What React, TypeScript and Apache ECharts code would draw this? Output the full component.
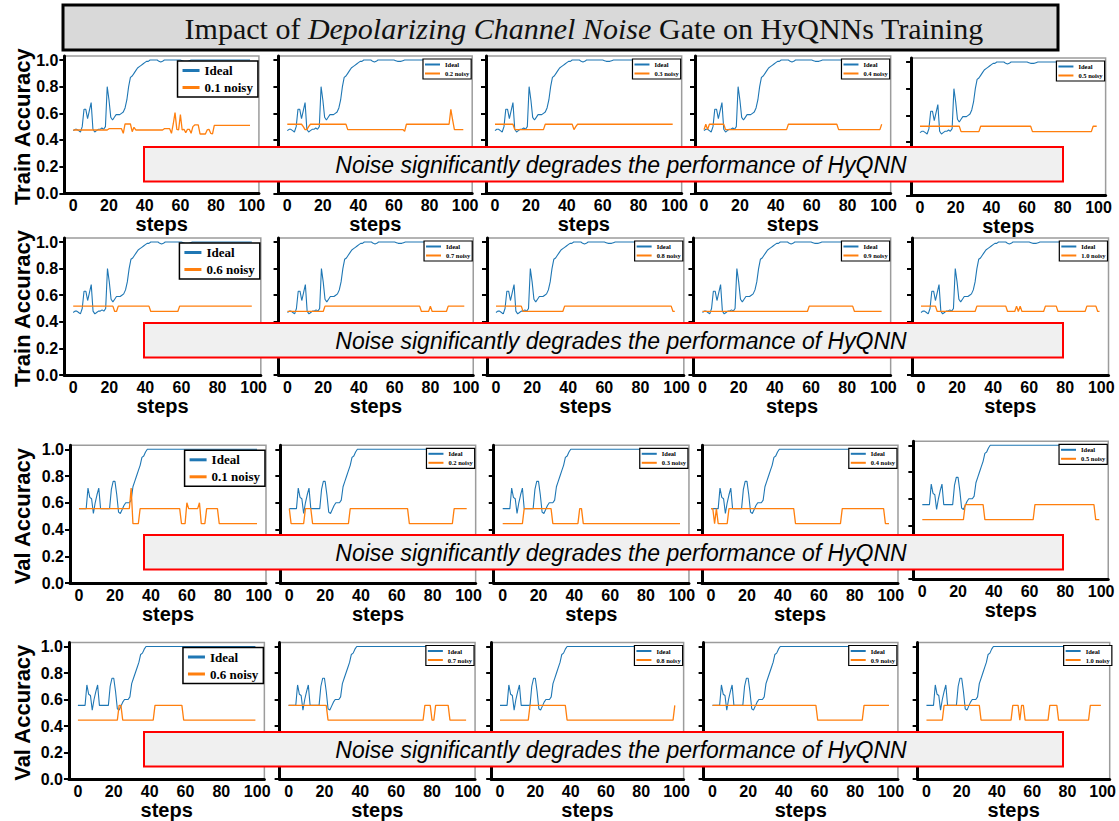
import React, { useEffect, useRef } from 'react';
import * as echarts from 'echarts';

// ---------------- data ----------------
const TH = 0.518, TL = 0.478; // train noisy levels
const VH = 0.556, VL = 0.444; // val noisy levels

const xTicks = [0, 20, 40, 60, 80, 100];
const yTicks = [0, 0.2, 0.4, 0.6, 0.8, 1.0];

const noiseLabels = ['0.1 noisy', '0.2 noisy', '0.3 noisy', '0.4 noisy', '0.5 noisy',
  '0.6 noisy', '0.7 noisy', '0.8 noisy', '0.9 noisy', '1.0 noisy'];

const rowTitles = ['Train Accuracy', 'Train Accuracy', 'Val Accuracy', 'Val Accuracy'];

const trainIdeal = [
  0.47, 0.48, 0.48, 0.47, 0.46, 0.50, 0.63, 0.63, 0.56, 0.62,
  0.68, 0.48, 0.46, 0.47, 0.48, 0.48, 0.49, 0.48, 0.50, 0.80,
  0.70, 0.57, 0.55, 0.57, 0.59, 0.59, 0.59, 0.60, 0.61, 0.64,
  0.70, 0.80, 0.87, 0.88, 0.90, 0.92, 0.94, 0.95, 0.96, 0.97,
  0.98, 0.99, 0.99, 1, 1, 1, 1, 1, 0.99, 0.985,
  0.99, 1, 1, 1, 1, 1, 1, 1, 1, 1,
  1, 0.995, 0.99, 0.99, 0.99, 0.995, 1, 1, 1, 1,
  1, 1, 1, 1, 1, 1, 1, 1, 1, 1,
  1, 1, 1, 1, 1, 1, 1, 1, 1, 1,
  1, 1, 1, 1, 1, 1, 1, 1, 1, 1,
];

const valIdeal = [
  0.556, 0.556, 0.556, 0.556, 0.556, 0.71, 0.64, 0.63, 0.52, 0.60,
  0.66, 0.71, 0.556, 0.556, 0.556, 0.556, 0.556, 0.556, 0.70, 0.76,
  0.76, 0.66, 0.53, 0.52, 0.55, 0.58, 0.60, 0.60, 0.60, 0.62,
  0.72, 0.76, 0.80, 0.84, 0.88, 0.94, 0.95, 0.98, 1, 1,
  1, 1, 1, 1, 1, 1, 1, 1, 1, 1,
  1, 1, 1, 1, 1, 1, 1, 1, 1, 1,
  1, 1, 1, 1, 1, 1, 1, 1, 1, 1,
  1, 1, 1, 1, 1, 1, 1, 1, 1, 1,
  1, 1, 1, 1, 1, 1, 1, 1, 1, 1,
  1, 1, 1, 1, 1, 1, 1, 1, 1, 1,
];

const trainNoisy01 = [
  0.475, 0.475, 0.475, 0.475, 0.475, 0.475, 0.475, 0.475, 0.475, 0.475,
  0.475, 0.475, 0.475, 0.475, 0.475, 0.475, 0.475, 0.475, 0.475, 0.475,
  0.485, 0.485, 0.485, 0.485, 0.485, 0.485, 0.485, 0.485, 0.45, 0.52,
  0.52, 0.52, 0.52, 0.462, 0.495, 0.475, 0.475, 0.475, 0.475, 0.475,
  0.475, 0.475, 0.475, 0.475, 0.475, 0.475, 0.475, 0.475, 0.475, 0.475,
  0.475, 0.485, 0.485, 0.485, 0.485, 0.45, 0.52, 0.605, 0.48, 0.475,
  0.59, 0.475, 0.48, 0.455, 0.48, 0.48, 0.45, 0.5, 0.513, 0.513,
  0.513, 0.445, 0.445, 0.445, 0.445, 0.475, 0.48, 0.45, 0.445, 0.51,
  0.51, 0.51, 0.51, 0.51, 0.51, 0.51, 0.51, 0.51, 0.51, 0.51,
  0.51, 0.51, 0.51, 0.51, 0.51, 0.51, 0.51, 0.51, 0.51, 0.51,
];
const trainNoisy02 = [
  TH, TH, TH, TH, TH, TH, TH, TH, TH, 0.50,
  TL, TL, 0.50, TH, TH, TH, TH, TH, TH, TH,
  TH, TH, TH, TH, TH, TH, TH, TH, TH, TH,
  TH, TH, TH, TH, TL, TL, TL, TL, TL, TL,
  TL, TL, TL, TL, TL, TL, TL, TL, TL, TL,
  TL, TL, TL, TL, TL, TL, TL, TL, TL, TL,
  TL, TL, TL, TL, TL, TL, 0.465, TH, TH, TH,
  TH, TH, TH, TH, TH, TH, TH, TH, TH, TH,
  TH, TH, TH, TH, TH, TH, TH, TH, TH, TH,
  TH, TH, 0.63, 0.55, TL, TL, TL, TL, TL, TL,
];
const trainNoisy03 = [
  TH, TH, TH, TH, TH, TH, TH, TH, TH, TH,
  TH, TL, TL, TL, TL, TL, TL, TL, TL, TL,
  TL, TL, TL, TL, TL, TL, TL, TL, TH, TH,
  TH, TH, TH, TH, TH, TH, TH, TH, TH, TH,
  TH, TH, TH, TH, TL, 0.50, TH, TH, TH, TH,
  TH, TH, TH, TH, TH, TH, TH, TH, TH, TH,
  TH, TH, TH, TH, TH, TH, TH, TH, TH, TH,
  TH, TH, TH, TH, TH, TH, TH, TH, TH, TH,
  TH, TH, TH, TH, TH, TH, TH, TH, TH, TH,
  TH, TH, TH, TH, TH, TH, TH, TH, TH, TH,
];
const trainNoisy04 = [
  TL, TH, TL, TH, TH, TH, TH, TH, TH, TH,
  TH, TH, TL, TL, TL, TL, TL, TL, TL, TL,
  TL, TL, TL, TL, TL, TL, TL, TL, TL, TL,
  TL, TL, TL, TL, TL, TL, TL, TL, TL, TL,
  TL, TL, TL, TL, TL, TL, TL, TH, TH, TH,
  TH, TH, TH, TH, TH, TH, TH, TH, TH, TH,
  TH, TH, TH, TH, TH, TH, TH, TH, TH, TH,
  TH, TH, TH, TH, TH, TL, TL, TL, TL, TL,
  TL, TL, TL, TL, TL, TL, TL, TL, TL, TL,
  TL, TL, TL, TL, TL, TL, TL, TL, TL, TH,
];
const trainNoisy05 = [
  TH, TH, TH, TH, TH, TH, TH, TH, TH, TH,
  TH, TH, TH, TH, TH, TH, TH, TH, TH, TH,
  TH, TH, TH, TL, TL, TL, TL, TL, TL, TL,
  TL, TL, TL, TL, TH, TH, TH, TH, TH, TH,
  TH, TH, TH, TH, TH, TH, TH, TH, TH, TH,
  TH, TH, TH, TH, TH, TH, TH, TH, TH, TH,
  TH, TH, TH, TL, TL, TL, TL, TL, TL, TL,
  TL, TL, TL, TL, TL, TL, TL, TL, TL, TL,
  TL, TL, TL, TL, TL, TL, TL, TL, TL, TL,
  TL, TL, TL, TL, TL, TL, TL, TH, TH, TH,
];
const trainNoisy06 = [
  TH, TH, TH, TH, TH, TH, TH, TH, TH, TH,
  TH, TH, TH, TH, TH, TH, TH, TH, TH, TH,
  TH, TH, TH, TL, TL, TH, TH, TH, TH, TH,
  TH, TH, TH, TH, TH, TH, TH, TH, TH, TH,
  TH, TH, TH, TL, TL, TL, TL, TL, TL, TL,
  TL, TL, TL, TL, TL, TL, TL, TL, TL, TH,
  TH, TH, TH, TH, TH, TH, TH, TH, TH, TH,
  TH, TH, TH, TH, TH, TH, TH, TH, TH, TH,
  TH, TH, TH, TH, TH, TH, TH, TH, TH, TH,
  TH, TH, TH, TH, TH, TH, TH, TH, TH, TH,
];
const trainNoisy07 = [
  TL, TL, TL, TL, TL, TL, TL, TL, TL, TL,
  TL, TL, TL, TL, TL, TL, TL, TL, TL, TL,
  TL, TH, TH, TH, TH, TH, TH, TH, TH, TH,
  TH, TH, TH, TH, TH, TH, TH, TH, TH, TH,
  TH, TH, TH, TH, TH, TH, TH, TH, TH, TH,
  TH, TH, TH, TH, TH, TH, TH, TH, TH, TH,
  TH, TH, TH, TH, TH, TH, TH, TH, TH, TH,
  TH, TH, TH, TH, TH, TL, TL, TL, TL, TL,
  TH, TL, TL, TL, TL, TL, TL, TL, TL, TL,
  TH, TH, TH, TH, TH, TH, TH, TH, TH, TH,
];
const trainNoisy08 = [
  TH, TH, TH, TH, TH, TH, TH, TH, TH, TH,
  TH, TH, TH, TH, TH, TL, TL, TL, TL, TL,
  TL, TL, TL, TL, TL, TL, TL, TL, TL, TL,
  TL, TL, TL, TL, TL, TL, TL, TL, TH, TH,
  TH, TH, TH, TH, TH, TH, TH, TH, TH, TH,
  TH, TH, TH, TH, TH, TH, TH, TH, TH, TH,
  TH, TH, TH, TH, TH, TH, TH, TH, TH, TH,
  TH, TH, TH, TH, TH, TH, TH, TH, TH, TH,
  TH, TH, TH, TH, TH, TH, TH, TH, TH, TH,
  TH, TH, TH, TH, TH, TH, TH, TH, TL, TL,
];
const trainNoisy09 = [
  TL, TL, TL, TL, TL, TL, TL, TL, TL, TL,
  TL, TL, TL, TL, TL, TL, TL, TL, TL, TL,
  TL, TL, TL, TL, TL, TL, TL, TL, TL, TL,
  TL, TL, TL, TL, TL, TL, TL, TL, TL, TL,
  TL, TL, TL, TL, TL, TL, TL, TL, TL, TL,
  TL, TL, TL, TL, TL, TL, TL, TL, TL, TH,
  TH, TH, TH, TH, TH, TH, TH, TH, TH, TH,
  TH, TH, TH, TH, TH, TH, TH, TH, TH, TH,
  TH, TH, TH, TH, TL, TL, TL, TL, TL, TL,
  TL, TL, TL, TL, TL, TL, TL, TL, TL, TL,
];
const trainNoisy10 = [
  TH, TH, TH, TH, TH, TH, TH, TH, TH, TL,
  TL, TL, TL, TL, TL, TL, TL, TL, TL, TL,
  TL, TL, TL, TL, TL, TL, TL, TL, TL, TL,
  TL, TH, TH, TH, TH, TH, TH, TH, TH, TH,
  TH, TH, TH, TH, TH, TH, TH, TH, TL, TL,
  TL, TL, TL, TH, TL, TH, TL, TL, TL, TL,
  TL, TL, TL, TL, TL, TL, TL, TL, TL, TH,
  TH, TH, TH, TH, TH, TH, TL, TL, TL, TL,
  TL, TL, TL, TL, TL, TL, TL, TL, TL, TL,
  TL, TL, TH, TH, TH, TH, TH, TH, TL, TL,
];

const valNoisy01 = [
  VH, VH, VH, VH, VH, VH, VH, VH, VH, VH,
  VH, VH, VH, VH, VH, VH, VH, VH, VH, VH,
  VH, VH, VH, VH, VH, VH, VH, VH, VH, 0.71,
  VL, VL, VL, VL, VH, VH, VH, VH, VH, VH,
  VH, VH, VH, VH, VH, VH, VH, VH, VH, VH,
  VH, VH, VH, VH, VH, VH, VH, VL, VL, VL,
  0.6, VH, VH, VH, VH, VH, VH, 0.6, VL, VL,
  VL, VH, VH, VH, VH, VH, VH, VH, VL, VL,
  VL, VL, VL, VL, VL, VL, VL, VL, VL, VL,
  VL, VL, VL, VL, VL, VL, VL, VL, VL, VL,
];
const valNoisy02 = [
  VH, VL, VL, VL, VL, VL, VL, VL, VL, VH,
  VH, VH, VH, VL, VL, VL, VL, VL, VL, VL,
  VL, VL, VL, VL, VL, VL, VL, VL, VL, VL,
  VL, VL, VL, VL, VH, VH, VH, VH, VH, VH,
  VH, VH, VH, VH, VH, VH, VH, VH, VH, VH,
  VH, VH, VH, VH, VH, VH, VH, VH, VH, VH,
  VH, VH, VH, VH, VH, VH, VH, VL, VL, VL,
  VL, VL, VL, VL, VL, VL, VL, VL, VL, VL,
  VL, VL, VL, VL, VL, VL, VL, VL, VL, VL,
  VL, VL, VH, VH, VH, VH, VH, VH, VH, VH,
];
const valNoisy03 = [
  VL, VL, VL, VL, VL, VL, VL, VL, VL, VL,
  VL, VL, VH, VH, VH, VH, VH, VH, VH, VH,
  VH, VH, VH, VH, VH, VH, VH, VH, VL, VL,
  VL, VL, VL, VL, VL, VL, VL, VL, VL, VL,
  VL, VL, VL, VH, VH, VL, VL, VL, VL, VL,
  VL, VL, VL, VL, VL, VL, VL, VL, VL, VL,
  VL, VL, VL, VL, VL, VL, VL, VL, VL, VL,
  VL, VL, VL, VL, VL, VL, VL, VL, VL, VL,
  VL, VL, VL, VL, VL, VL, VL, VL, VL, VL,
  VL, VL, VL, VL, VL, VL, VL, VL, VL, VL,
];
const valNoisy04 = [
  VH, VH, VL, VH, VL, VL, VL, VL, VL, VL,
  VH, VH, VH, VH, VH, VH, VH, VH, VH, VH,
  VH, VH, VH, VH, VH, VH, VH, VH, VH, VH,
  VH, VH, VH, VH, VH, VH, VH, VH, VH, VH,
  VH, VH, VH, VH, VH, VH, VH, VL, VL, VL,
  VL, VL, VL, VL, VL, VL, VL, VL, VL, VL,
  VL, VL, VL, VL, VL, VL, VL, VL, VL, VL,
  VL, VL, VL, VH, VH, VH, VH, VH, VH, VH,
  VH, VH, VH, VH, VH, VH, VH, VH, VH, VH,
  VH, VH, VH, VH, VH, VH, VH, VL, VL, VL,
];
const valNoisy05 = [
  VL, VL, VL, VL, VL, VL, VL, VL, VL, VL,
  VL, VL, VL, VL, VL, VL, VL, VL, VL, VL,
  VL, VL, VL, VL, VH, VH, VH, VH, VH, VH,
  VH, VH, VH, VH, VH, VL, VL, VL, VL, VL,
  VL, VL, VL, VL, VL, VL, VL, VL, VL, VL,
  VL, VL, VL, VL, VL, VL, VL, VL, VL, VL,
  VL, VL, VL, VH, VH, VH, VH, VH, VH, VH,
  VH, VH, VH, VH, VH, VH, VH, VH, VH, VH,
  VH, VH, VH, VH, VH, VH, VH, VH, VH, VH,
  VH, VH, VH, VH, VH, VH, VH, VL, VL, VL,
];
const valNoisy06 = [
  VL, VL, VL, VL, VL, VL, VL, VL, VL, VL,
  VL, VL, VL, VL, VL, VL, VL, VL, VL, VL,
  VL, VL, VL, VH, VH, VL, VL, VL, VL, VL,
  VL, VL, VL, VL, VL, VL, VL, VL, VL, VL,
  VL, VL, VL, VH, VH, VH, VH, VH, VH, VH,
  VH, VH, VH, VH, VH, VH, VH, VH, VH, VL,
  VL, VL, VL, VL, VL, VL, VL, VL, VL, VL,
  VL, VL, VL, VL, VL, VL, VL, VL, VL, VL,
  VL, VL, VL, VL, VL, VL, VL, VL, VL, VL,
  VL, VL, VL, VL, VL, VL, VL, VL, VL, VL,
];
const valNoisy07 = [
  VH, VH, VH, VH, VH, VH, VH, VH, VH, VH,
  VH, VH, VH, VH, VH, VH, VH, VH, VH, VH,
  VH, VH, VL, VL, VL, VL, VL, VL, VL, VL,
  VL, VL, VL, VL, VL, VL, VL, VL, VL, VL,
  VL, VL, VL, VL, VL, VL, VL, VL, VL, VL,
  VL, VL, VL, VL, VL, VL, VL, VL, VL, VL,
  VL, VL, VL, VL, VL, VL, VL, VL, VL, VL,
  VL, VL, VL, VL, VL, VL, VH, VH, VH, VH,
  VL, VL, VH, VH, VH, VH, VH, VH, VH, VH,
  VL, VL, VL, VL, VL, VL, VL, VL, VL, VL,
];
const valNoisy08 = [
  VL, VL, VL, VL, VL, VL, VL, VL, VL, VL,
  VL, VL, VL, VL, VL, VL, VL, VH, VH, VH,
  VH, VH, VH, VH, VH, VH, VH, VH, VH, VH,
  VH, VH, VH, VH, VH, VH, VH, VH, VL, VL,
  VL, VL, VL, VL, VL, VL, VL, VL, VL, VL,
  VL, VL, VL, VL, VL, VL, VL, VL, VL, VL,
  VL, VL, VL, VL, VL, VL, VL, VL, VL, VL,
  VL, VL, VL, VL, VL, VL, VL, VL, VL, VL,
  VL, VL, VL, VL, VL, VL, VL, VL, VL, VL,
  VL, VL, VL, VL, VL, VL, VL, VL, VL, VH,
];
const valNoisy09 = [
  VH, VH, VH, VH, VH, VH, VH, VH, VH, VH,
  VH, VH, VH, VH, VH, VH, VH, VH, VH, VH,
  VH, VH, VH, VH, VH, VH, VH, VH, VH, VH,
  VH, VH, VH, VH, VH, VH, VH, VH, VH, VH,
  VH, VH, VH, VH, VH, VH, VH, VH, VH, VH,
  VH, VH, VH, VH, VH, VH, VH, VH, VH, VL,
  VL, VL, VL, VL, VL, VL, VL, VL, VL, VL,
  VL, VL, VL, VL, VL, VL, VL, VL, VL, VL,
  VL, VL, VL, VL, VL, VH, VH, VH, VH, VH,
  VH, VH, VH, VH, VH, VH, VH, VH, VH, VH,
];
const valNoisy10 = [
  VL, VL, VL, VL, VL, VL, VL, VL, VL, VL,
  VH, VH, VH, VH, VH, VH, VH, VH, VH, VH,
  VH, VH, VH, VH, VH, VH, VH, VH, VH, VH,
  VH, VL, VL, VL, VL, VL, VL, VL, VL, VL,
  VL, VL, VL, VL, VL, VL, VL, VL, VL, VH,
  VH, VH, VH, VL, VH, VH, VL, VL, VL, VL,
  VL, VL, VL, VL, VL, VL, VL, VL, VL, VL,
  VH, VH, VH, VH, VH, VL, VL, VL, VL, VL,
  VL, VL, VL, VL, VL, VL, VL, VL, VL, VL,
  VL, VL, VL, VH, VH, VH, VH, VH, VH, VH,
];

const trainNoisy = [trainNoisy01, trainNoisy02, trainNoisy03, trainNoisy04, trainNoisy05,
  trainNoisy06, trainNoisy07, trainNoisy08, trainNoisy09, trainNoisy10];
const valNoisy = [valNoisy01, valNoisy02, valNoisy03, valNoisy04, valNoisy05,
  valNoisy06, valNoisy07, valNoisy08, valNoisy09, valNoisy10];

const titleParts = ['Impact of ', 'Depolarizing Channel Noise', ' Gate on HyQNNs Training'];
const bannerText = 'Noise significantly degrades the performance of HyQNN';

// ---------------- layout (pixels) ----------------
const W = 1119, H = 821;
const SANS = '"Liberation Sans", Arial, sans-serif';
const SERIF = '"Liberation Serif", "Times New Roman", serif';
const BLUE = '#1f77b4', ORANGE = '#ff7f0e';

// [x of step 0, x of step 99] per row/column
const colX = [
  [[73.3, 250], [287.3, 463.3], [495, 672.7], [704, 881.7], [920, 1096.7]],
  [[73.2, 251.8], [287.5, 464.3], [496, 674.8], [702.5, 881.6], [921, 1099.5]],
  [[79, 257], [289.3, 466.7], [502.7, 680], [711, 889], [922.3, 1099.3]],
  [[77.9, 255.4], [288.6, 466.1], [500, 674.8], [712.5, 889], [926.6, 1103.9]],
];
// [y of 1.0, y of 0.0] per row
const rowY = [[60, 193.3], [242, 375], [449.3, 583], [646.5, 779]];
const panelDy = [[0, 0, 0, 0, 2], [0, 0, 0, 0, 0], [0, 0, 0, 0, -4], [0, 0, 0, 0, 0]];
const bannerY = [147, 323, 535, 732];

function buildOption() {
  const grid: any[] = [], xAxis: any[] = [], yAxis: any[] = [], series: any[] = [], legend: any[] = [];
  const elements: any[] = [];

  for (let r = 0; r < 4; r++) {
    for (let c = 0; c < 5; c++) {
      const i = r * 5 + c;
      const [x0, x99] = colX[r][c];
      const dy = panelDy[r][c];
      const y1 = rowY[r][0] + dy, y0 = rowY[r][1] + dy;
      const pps = (x99 - x0) / 99;
      const left = x0 - 5 * pps, right = x0 + 104 * pps;
      const ppu = y0 - y1;
      const top = y0 - 1.03 * ppu;
      grid.push({ left, top, width: right - left, height: y0 - top, show: true,
        borderColor: '#9c9c9c', borderWidth: 1.5, backgroundColor: 'transparent' });
      xAxis.push({
        gridIndex: i, type: 'value', min: -5, max: 104,
        axisLine: { show: true, onZero: false, lineStyle: { color: '#000', width: 3 } },
        axisTick: { show: false },
        splitLine: { show: false },
        axisLabel: { customValues: xTicks, color: '#000', fontSize: 16, fontWeight: 'bold', fontFamily: SANS, margin: 4 },
        name: 'steps', nameLocation: 'middle', nameGap: 19,
        nameTextStyle: { color: '#000', fontSize: 20, fontWeight: 'bold', fontFamily: SANS },
      });
      yAxis.push({
        gridIndex: i, type: 'value', min: 0, max: 1.03,
        axisLine: { show: true, onZero: false, lineStyle: { color: '#000', width: 3 } },
        axisTick: { show: true, customValues: yTicks, length: 5, lineStyle: { color: '#000', width: 2 } },
        splitLine: { show: false },
        axisLabel: { show: c === 0, customValues: yTicks, formatter: (v: number) => v.toFixed(1),
          color: '#000', fontSize: 16, fontWeight: 'bold', fontFamily: SANS, margin: 6 },
      });
      const isTrain = r < 2;
      const ideal = isTrain ? trainIdeal : valIdeal;
      const noisy = (isTrain ? trainNoisy : valNoisy)[(r % 2) * 5 + c];
      const noisyName = noiseLabels[(r % 2) * 5 + c];
      series.push({
        type: 'line', name: 'Ideal', xAxisIndex: i, yAxisIndex: i,
        data: ideal.map((v, k) => [k, v]), showSymbol: false, symbol: 'none',
        lineStyle: { color: BLUE, width: 1.1 }, itemStyle: { color: BLUE }, z: 2,
      });
      series.push({
        type: 'line', name: noisyName, xAxisIndex: i, yAxisIndex: i,
        data: noisy.map((v, k) => [k, v]), showSymbol: false, symbol: 'none',
        lineStyle: { color: ORANGE, width: 1.3 }, itemStyle: { color: ORANGE }, z: 3,
      });
      const big = c === 0;
      legend.push({
        orient: 'vertical', right: W - (right - 1), top: big ? y1 + 1 : y1 - 1,
        data: ['Ideal', noisyName], icon: 'rect', selectedMode: false,
        itemWidth: big ? 17 : 15, itemHeight: big ? 3 : 2, itemGap: big ? 4 : 2,
        padding: big ? [3, 5, 3, 5] : [2, 2, 2, 2],
        borderColor: '#000', borderWidth: big ? 1.5 : 1.2, backgroundColor: '#fff',
        textStyle: { color: '#000', fontFamily: SERIF, fontWeight: 'bold', fontSize: big ? 13 : 6.5 },
      });
    }
    // row y-axis title
    const cy = (rowY[r][0] + rowY[r][1]) / 2;
    elements.push({
      type: 'text', x: 22, y: cy, rotation: Math.PI / 2, z: 50,
      style: { text: rowTitles[r], fill: '#000', fontSize: 22, fontWeight: 'bold', fontFamily: SANS,
        textAlign: 'center', textVerticalAlign: 'middle', align: 'center', verticalAlign: 'middle' },
    });
    // banner
    elements.push({
      type: 'rect', z: 100, shape: { x: 144, y: bannerY[r], width: 919, height: 34.5 },
      style: { fill: '#f0f0f0', stroke: '#ff0000', lineWidth: 2 },
    });
    elements.push({
      type: 'text', z: 101, x: 621, y: bannerY[r] + 17.5,
      style: { text: bannerText, fill: '#000', fontSize: 23, fontStyle: 'italic', fontFamily: SANS,
        textAlign: 'center', textVerticalAlign: 'middle', align: 'center', verticalAlign: 'middle' },
    });
  }

  // title box
  elements.push({
    type: 'rect', z: 100, shape: { x: 63, y: 5, width: 995, height: 45 },
    style: { fill: '#d9d9d9', stroke: '#000', lineWidth: 3 },
  });
  elements.push({
    type: 'text', z: 101, x: 584, y: 28,
    style: {
      text: `{n|${titleParts[0]}}{i|${titleParts[1]}}{n|${titleParts[2]}}`,
      textAlign: 'center', textVerticalAlign: 'middle', align: 'center', verticalAlign: 'middle',
      rich: {
        n: { fontSize: 30, fontFamily: SERIF, fill: '#111', color: '#111' },
        i: { fontSize: 30, fontFamily: SERIF, fontStyle: 'italic', fill: '#111', color: '#111' },
      },
    },
  });

  return { animation: false, backgroundColor: '#fff', grid, xAxis, yAxis, series, legend, graphic: { elements } };
}

export default function App() {
  const ref = useRef<HTMLDivElement>(null);
  useEffect(() => {
    const chart = echarts.init(ref.current as HTMLDivElement, null, { renderer: 'svg', width: W, height: H });
    chart.setOption(buildOption() as any);
    return () => chart.dispose();
  }, []);
  return <div ref={ref} style={{ position: 'fixed', left: 0, top: 0, width: W, height: H, background: '#fff' }} />;
}
